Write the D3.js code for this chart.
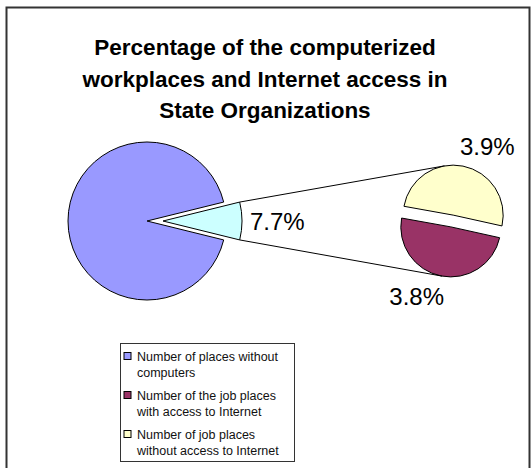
<!DOCTYPE html>
<html>
<head>
<meta charset="utf-8">
<script src="https://cdn.jsdelivr.net/npm/d3@7"></script>
<style>
  body { margin: 0; background: #fff; }
  svg { display: block; font-family: "Liberation Sans", Arial, sans-serif; }
  .slice { stroke: #000; stroke-width: 1; }
  .conn { stroke: #000; stroke-width: 1; fill: none; }
  .pct { font-size: 24px; fill: #000; }
  .title { font-size: 22.5px; font-weight: bold; fill: #000; }
  .legend text { font-size: 12.5px; fill: #111; }
</style>
</head>
<body>
<div id="chart"></div>
<script>
// data
var titleLines = ['Percentage of the computerized', 'workplaces and Internet access in', 'State Organizations'];
var categories = ['Number of places without computers', 'Number of the job places with access to Internet', 'Number of job places without access to Internet'];
var legendLines = [['Number of places without', 'computers'], ['Number of the job places', 'with access to Internet'], ['Number of job places', 'without access to Internet']];
var values = [92.3, 3.8, 3.9];
var otherLabel = '7.7%';
var secLabels = ['3.8%', '3.9%'];
var colors = ['#9999FF', '#993366', '#FFFFCC'];
var otherColor = '#CCFFFF';

var W = 531, H = 468;
var svg = d3.select('#chart').append('svg').attr('width', W).attr('height', H);

// frame
svg.append('rect').attr('x', 6.5).attr('y', 7.5).attr('width', 523).attr('height', 470)
	.attr('fill', '#fff').attr('stroke', '#333').attr('stroke-width', 2);

// title
svg.selectAll('.title').data(titleLines).enter().append('text')
	.attr('class', 'title')
	.attr('x', 265).attr('y', function(d, i){ return 55 + i * 31.5; })
	.attr('text-anchor', 'middle')
	.text(function(d){ return d; });

var rad = Math.PI / 180;
var other = values[1] + values[2];
var mainData = [values[0], other];
var mainC = [147, 221], mainR = 79, explode = 16;
var halfOther = other / (values[0] + other) * Math.PI;

var mainPie = d3.pie().sort(null)
	.startAngle(Math.PI / 2 + halfOther)
	.endAngle(Math.PI / 2 + halfOther + 2 * Math.PI);
var mainArcs = mainPie(mainData);
var arcMain = d3.arc().innerRadius(0).outerRadius(mainR);

function offset(a, dist){
	var m = (a.startAngle + a.endAngle) / 2;
	return [Math.sin(m) * dist, -Math.cos(m) * dist];
}

var g1 = svg.append('g').attr('transform', 'translate(' + mainC + ')');
g1.selectAll('path').data(mainArcs).enter().append('path')
	.attr('class', 'slice')
	.attr('fill', function(d, i){ return i == 0 ? colors[0] : otherColor; })
	.attr('transform', function(d, i){ return i == 0 ? null : 'translate(' + offset(d, explode) + ')'; })
	.attr('d', arcMain);

var oa = mainArcs[1], oo = offset(oa, explode);
var tip = [mainC[0] + oo[0], mainC[1] + oo[1]];
function onCircle(c, r, a){ return [c[0] + Math.sin(a) * r, c[1] - Math.cos(a) * r]; }
var cornerTop = onCircle(tip, mainR, oa.startAngle);
var cornerBot = onCircle(tip, mainR, oa.endAngle);

svg.append('text').attr('class', 'pct')
	.attr('x', tip[0] + mainR + 8).attr('y', tip[1] + 9)
	.text(otherLabel);

// secondary pie
var secC = [452, 221], secR = 50, secExplode = 6;
var secPie = d3.pie().sort(null)
	.startAngle(102.5 * rad).endAngle(102.5 * rad + 2 * Math.PI);
var secArcs = secPie(values.slice(1));
var arcSec = d3.arc().innerRadius(0).outerRadius(secR);
secArcs.forEach(function(d){
	var o = offset(d, secExplode);
	d.c = [secC[0] + o[0], secC[1] + o[1]];
});

svg.selectAll('.sec').data(secArcs).enter().append('path')
	.attr('class', 'slice sec')
	.attr('fill', function(d, i){ return colors[i + 1]; })
	.attr('transform', function(d){ return 'translate(' + d.c + ')'; })
	.attr('d', arcSec);

// tangent point from p to circle (c,r); side -1 upper, +1 lower
function tangent(p, c, r, side){
	var dx = c[0] - p[0], dy = c[1] - p[1], dist = Math.sqrt(dx * dx + dy * dy);
	var ang = Math.atan2(dy, dx) + side * Math.asin(r / dist);
	var ux = Math.cos(ang), uy = Math.sin(ang);
	var nx = side < 0 ? uy : -uy, ny = side < 0 ? -ux : ux;
	return [c[0] + nx * r, c[1] + ny * r];
}
var tTop = tangent(cornerTop, secArcs[1].c, secR, -1);
var tBot = tangent(cornerBot, secArcs[0].c, secR, 1);
svg.append('line').attr('class', 'conn')
	.attr('x1', cornerTop[0]).attr('y1', cornerTop[1]).attr('x2', tTop[0]).attr('y2', tTop[1]);
svg.append('line').attr('class', 'conn')
	.attr('x1', cornerBot[0]).attr('y1', cornerBot[1]).attr('x2', tBot[0]).attr('y2', tBot[1]);

// secondary labels, outside end
svg.selectAll('.seclab').data(secArcs).enter().append('text')
	.attr('class', 'pct seclab')
	.attr('text-anchor', 'middle')
	.attr('x', function(d){ var m = (d.startAngle + d.endAngle) / 2 + 15 * rad; return d.c[0] + Math.sin(m) * 77; })
	.attr('y', function(d){ var m = (d.startAngle + d.endAngle) / 2 + 15 * rad; return d.c[1] - Math.cos(m) * 77 + 9; })
	.text(function(d, i){ return secLabels[i]; });

// legend
var lg = svg.append('g').attr('class', 'legend').attr('transform', 'translate(120.5,343.5)');
lg.append('rect').attr('width', 174).attr('height', 118).attr('fill', '#fff').attr('stroke', '#333').attr('stroke-width', 1);
var items = lg.selectAll('.item').data(categories).enter().append('g')
	.attr('class', 'item')
	.attr('transform', function(d, i){ return 'translate(0,' + (i * 39) + ')'; });
items.append('rect').attr('x', 3.5).attr('y', 9).attr('width', 7).attr('height', 7)
	.attr('fill', function(d, i){ return colors[i]; }).attr('stroke', '#000').attr('stroke-width', 1);
items.append('text').selectAll('tspan').data(function(d, i){ return legendLines[i]; }).enter().append('tspan')
	.attr('x', 16.5).attr('y', function(d, j){ return 17 + j * 16; })
	.text(function(d){ return d; });
</script>
</body>
</html>
